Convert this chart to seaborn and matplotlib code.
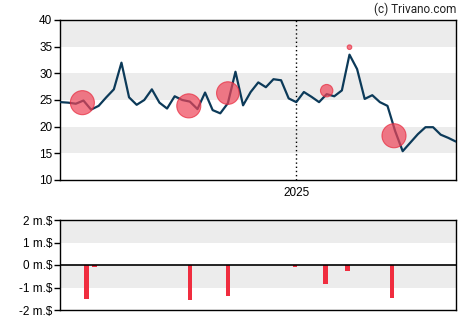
import numpy as np
import pandas as pd
import matplotlib
matplotlib.use("Agg")
import matplotlib.pyplot as plt
import matplotlib.dates as mdates
import seaborn as sns

# ---- data ----
start_date = "2024-05-29"
prices = [24.6, 24.5, 24.3, 24.9, 23.2, 23.9, 25.5, 27.0, 32.0, 25.5,
          24.1, 25.0, 27.0, 24.5, 23.4, 25.7, 25.0, 24.7, 23.3, 26.4,
          23.1, 22.5, 24.4, 30.3, 24.0, 26.5, 28.3, 27.4, 28.9, 28.7,
          25.3, 24.6, 26.5, 25.6, 24.6, 26.1, 25.7, 26.8, 33.5, 30.8,
          25.2, 25.9, 24.6, 23.9, 19.2, 15.4, 17.0, 18.6, 19.9, 19.9,
          18.5, 17.9, 17.2]

trade_dates = ["2024-06-18", "2024-09-24", "2024-10-30", "2025-01-29",
               "2025-02-19", "2025-04-01"]
trade_prices = [24.5, 23.9, 26.3, 26.75, 34.9, 18.3]
trade_marker_sizes = [300, 300, 265, 80, 11, 300]

flow_dates = ["2024-06-22", "2024-06-29", "2024-09-25", "2024-10-30",
              "2024-12-31", "2025-01-28", "2025-02-17", "2025-03-30"]
flow_values = [-1.51, -0.07, -1.55, -1.38, -0.07, -0.84, -0.25, -1.47]

price_ticks = [10, 15, 20, 25, 30, 35, 40]
flow_ticks = [-2, -1, 0, 1, 2]
flow_tick_labels = ["-2 m.$", "-1 m.$", "0 m.$", "1 m.$", "2 m.$"]
year_label = "2025"
credit = "(c) Trivano.com"

# ---- frames ----
dates = pd.date_range(start_date, periods=len(prices), freq="7D")
df_line = pd.DataFrame({"date": dates, "price": prices})
df_trades = pd.DataFrame({"date": pd.to_datetime(trade_dates), "price": trade_prices})
df_flow = pd.DataFrame({"x": mdates.date2num(pd.to_datetime(flow_dates)), "v": flow_values})

sns.set_style("ticks")
plt.rcParams["font.family"] = ["Liberation Sans", "DejaVu Sans"]

W, H = 470, 325
fig = plt.figure(figsize=(W / 100, H / 100), dpi=100)
ax = fig.add_axes([60 / W, (H - 180) / H, 396 / W, 160 / H])
ax2 = fig.add_axes([60 / W, (H - 310) / H, 396 / W, 90 / H])

line_color = "#0c3a59"
red = "#f02d3f"

# bands
for lo, hi in [(15, 20), (25, 30), (35, 40)]:
    ax.axhspan(lo, hi, color="#ececec", lw=0, zorder=0)
for lo, hi in [(1, 2), (-1, 0)]:
    ax2.axhspan(lo, hi, color="#ececec", lw=0, zorder=0)

sns.lineplot(data=df_line, x="date", y="price", ax=ax, color=line_color,
             linewidth=1.6, zorder=3)
sns.scatterplot(data=df_trades, x="date", y="price", ax=ax, s=trade_marker_sizes,
                color="#ee4458", alpha=0.7, edgecolor="#e8283c", linewidth=0.8,
                zorder=4, legend=False)

x0 = mdates.date2num(dates[0]) - 0.6
x1 = mdates.date2num(dates[-1]) + 0.1
ax.set_xlim(x0, x1)
ax.set_ylim(10, 40)
ax.axvline(mdates.date2num(pd.Timestamp("2025-01-01")), color="black",
           linestyle=(0, (1, 2)), linewidth=1.0, zorder=2)
ax.set_xticks([mdates.date2num(pd.Timestamp("2025-01-01"))])
ax.set_xticklabels([year_label])
ax.set_yticks(price_ticks)
ax.set_yticklabels([str(t) for t in price_ticks])
ax.tick_params(axis="x", length=0, pad=5, labelsize=8.5, colors="black")
ax.tick_params(axis="y", length=4, width=1, pad=1.5, labelsize=8.5, colors="black")
ax.set_xlabel("")
ax.set_ylabel("")

ax2.bar(df_flow["x"], df_flow["v"], width=4.2, color=red, linewidth=0, zorder=3)
ax2.axhline(0, color="black", linewidth=1.2, zorder=4)
ax2.set_xlim(x0, x1)
ax2.set_ylim(-2, 2)
ax2.set_xticks([])
ax2.set_yticks(flow_ticks)
ax2.set_yticklabels(flow_tick_labels)
ax2.tick_params(axis="y", length=4, width=1, pad=1.5, labelsize=8.5, colors="black")
ax2.set_xlabel("")
ax2.set_ylabel("")

for a in (ax, ax2):
    for s in a.spines.values():
        s.set_visible(True)
        s.set_color("black")
        s.set_linewidth(1.0)

fig.text(456 / W, 1 - 9 / H, credit, ha="right", va="center", fontsize=8.5,
         family=["Roboto", "DejaVu Sans"], color="#222222")

fig.savefig("out.png", dpi=100)
